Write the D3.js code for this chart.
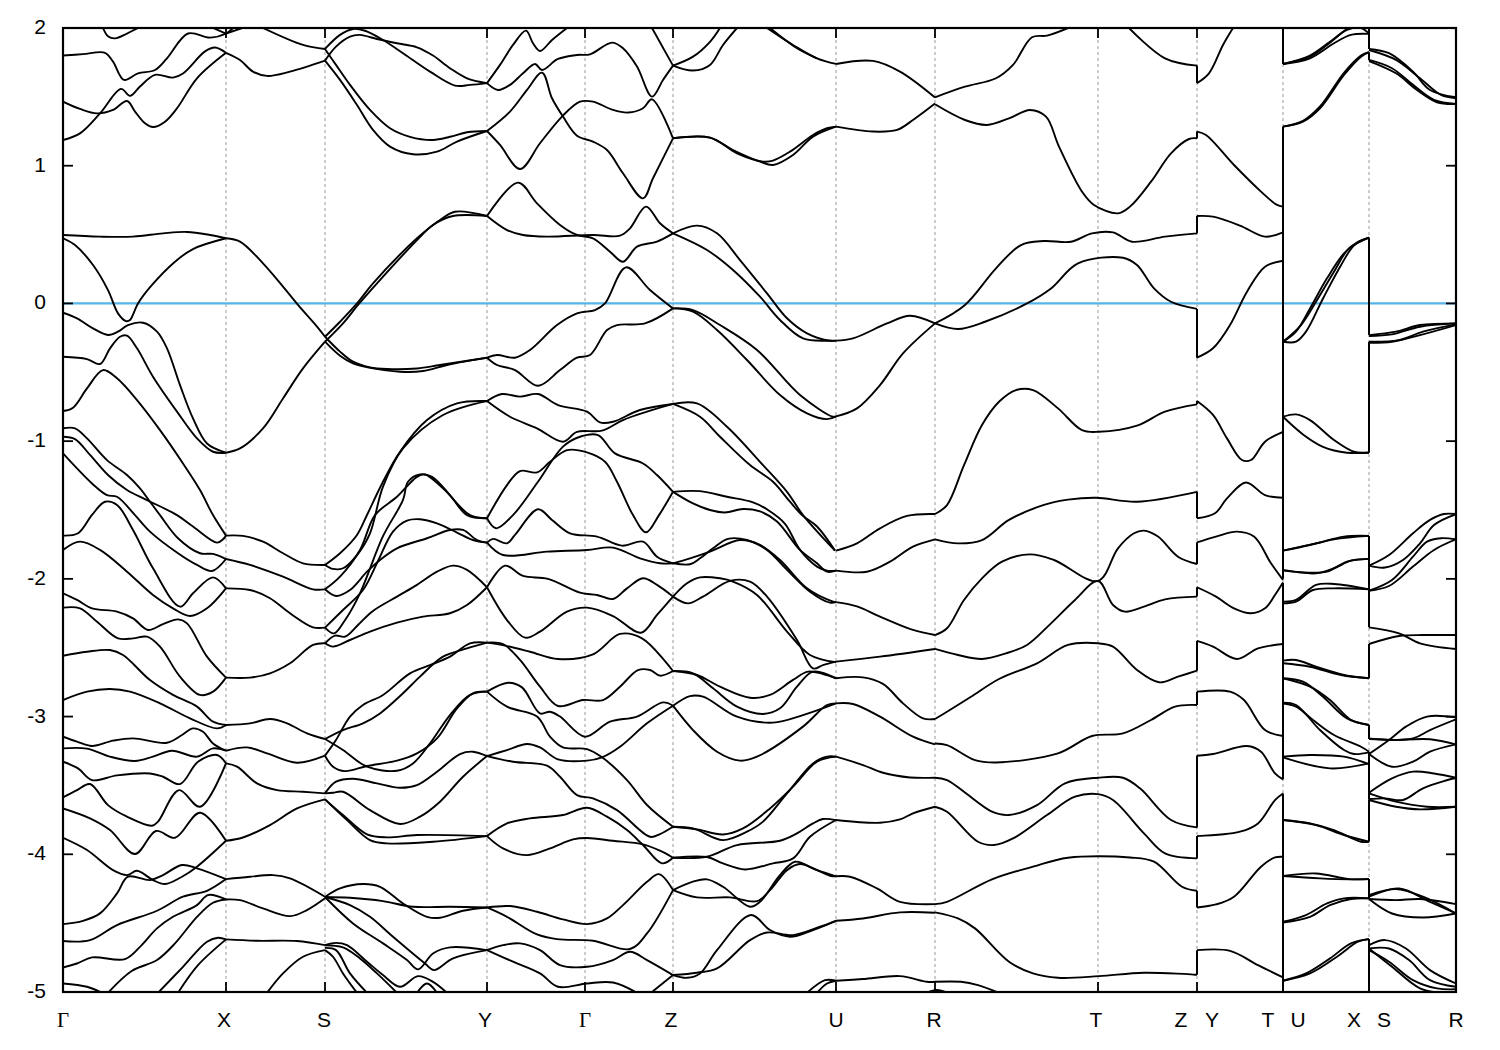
<!DOCTYPE html>
<html><head><meta charset="utf-8"><script src="https://cdnjs.cloudflare.com/ajax/libs/d3/7.8.5/d3.min.js"></script>
<style>html,body{margin:0;background:#fff}svg{display:block}text{font-family:"Liberation Sans",Arial,sans-serif;fill:#000}</style></head><body><div id="c"></div>
<script>
const energyTicks=[2,1,0,-1,-2,-3,-4,-5];
const pathTicks=[0,163,262,424,522,610,773,872,1035,1134,1220,1306,1393];
const pathLabels=[["Γ",0],["X",161],["S",261],["Y",422],["Γ",522],["Z",608],["U",773],["R",871],["T",1033],["Z",1118],["Y",1149],["T",1205],["U",1235],["X",1291],["S",1321],["R",1393]];
const bandsGammaX=[
[40,2,45,1.94,52,1.925,64,1.96,75,2],
[0,1.8,20,1.81,42,1.82,50,1.756,61,1.623,75,1.67,92,1.695,104,1.78,125,1.96,147,1.93,163,1.96,170,2],
[150,2,163,1.96],
[0,1.187,17,1.235,37,1.38,58,1.558,67,1.507,77,1.575,92,1.66,110,1.64,120,1.67,142,1.83,152,1.858,163,1.82],
[0,1.465,17,1.412,34,1.38,50,1.405,64,1.47,72,1.393,82,1.308,90,1.281,102,1.32,114,1.417,134,1.635,163,1.82],
[0,.497,37,.485,70,.485,100,.509,124,.519,147,.497,163,.473],
[0,.473,12,.424,30,.279,45,.097,55,-.072,63,-.128,67,-.12,75,0,89,.134,112,.303,130,.395,163,.473],
[0,-.067,14,-.108,30,-.181,45,-.229,55,-.205,65,-.157,80,-.14,94,-.205,104,-.326,117,-.593,130,-.835,144,-1.017,163,-1.084],
[0,-.387,24,-.404,37,-.44,47,-.326,57,-.242,64,-.234,74,-.326,90,-.532,114,-.786,134,-.98,150,-1.077,163,-1.084],
[0,-.781,10,-.757,24,-.617,40,-.484,54,-.544,74,-.702,97,-.92,120,-1.162,137,-1.355,150,-1.537,163,-1.686],
[0,-.907,12,-.907,24,-.98,44,-1.138,64,-1.246,77,-1.343,87,-1.44,97,-1.537,115,-1.705,137,-1.814,150,-1.819,163,-1.856],
[0,-.968,12,-.985,27,-1.1,45,-1.246,64,-1.355,84,-1.428,114,-1.537,130,-1.62,154,-1.737,160,-1.713,163,-1.686],
[0,-1.089,14,-1.198,29,-1.307,44,-1.392,54,-1.404,72,-1.537,87,-1.657,115,-1.814,134,-1.899,149,-1.943,163,-1.856],
[0,-1.686,15,-1.669,29,-1.536,42,-1.44,54,-1.463,70,-1.645,90,-1.923,117,-2.202,130,-2.105,150,-1.989,163,-2.069],
[0,-1.79,17,-1.73,37,-1.79,64,-1.948,90,-2.117,110,-2.214,127,-2.27,144,-2.214,163,-2.069],
[0,-2.105,14,-2.153,29,-2.214,54,-2.238,70,-2.287,85,-2.371,100,-2.328,115,-2.294,124,-2.323,144,-2.565,163,-2.717],
[0,-2.209,17,-2.214,34,-2.311,55,-2.432,70,-2.432,84,-2.42,97,-2.492,117,-2.71,137,-2.843,150,-2.819,163,-2.717],
[0,-2.558,24,-2.529,47,-2.517,60,-2.553,87,-2.735,110,-2.843,134,-2.928,150,-3.037,163,-3.061],
[0,-2.88,24,-2.819,47,-2.8,67,-2.819,97,-2.904,127,-3.013,154,-3.086,163,-3.061],
[0,-3.146,14,-3.182,29,-3.214,50,-3.175,70,-3.158,104,-3.19,119,-3.134,130,-3.086,140,-3.11,150,-3.195,163,-3.248],
[0,-3.231,24,-3.233,47,-3.291,72,-3.323,90,-3.291,109,-3.248,134,-3.291,150,-3.231,163,-3.248],
[0,-3.328,15,-3.376,29,-3.461,54,-3.427,87,-3.413,100,-3.437,117,-3.49,135,-3.328,154,-3.279,163,-3.34],
[0,-3.587,14,-3.534,27,-3.49,45,-3.643,64,-3.727,89,-3.793,95,-3.763,116,-3.534,137,-3.655,163,-3.34],
[0,-3.667,27,-3.739,47,-3.824,72,-3.998,93,-3.831,112,-3.88,137,-3.698,163,-3.902],
[0,-3.88,24,-3.969,50,-4.115,64,-4.151,74,-4.12,90,-4.187,102,-4.216,119,-4.163,134,-4.09,163,-3.902],
[0,-4.507,20,-4.483,37,-4.429,54,-4.284,65,-4.163,87,-4.187,100,-4.151,119,-4.078,134,-4.102,163,-4.18],
[0,-4.63,27,-4.623,54,-4.514,94,-4.41,120,-4.308,144,-4.265,163,-4.18],
[0,-4.822,14,-4.793,29,-4.749,62,-4.761,77,-4.672,94,-4.538,110,-4.454,134,-4.369,145,-4.296,163,-4.328],
[0,-4.938,24,-4.962,39,-5.006],
[45,-5.006,69,-4.846,94,-4.768,112,-4.647,134,-4.454,150,-4.352,163,-4.328],
[95,-5.006,120,-4.817,144,-4.635,155,-4.606,163,-4.618],
[115,-5.006,135,-4.805,163,-4.618]];
const bandsXS=[
[163,1.96,200,2.05],
[200,2,240,1.877,262,1.848],
[163,1.82,177,1.768,190,1.683,204,1.652,227,1.683,262,1.763],
[163,.473,177,.449,200,.291,220,.122,235,-.011,254,-.169,262,-.242],
[163,-1.084,177,-1.053,200,-.907,220,-.69,240,-.472,262,-.278],
[163,-1.686,180,-1.688,200,-1.73,220,-1.814,240,-1.887,262,-1.899],
[163,-1.856,187,-1.899,220,-1.984,250,-2.076,262,-2.076],
[163,-2.069,187,-2.081,207,-2.141,227,-2.25,250,-2.352,262,-2.354],
[163,-2.717,187,-2.717,207,-2.686,227,-2.613,250,-2.48,262,-2.468],
[163,-3.061,187,-3.049,207,-3.018,224,-3.049,244,-3.122,262,-3.163],
[163,-3.248,184,-3.224,204,-3.267,234,-3.335,262,-3.284],
[163,-3.34,174,-3.364,194,-3.485,214,-3.534,240,-3.546,262,-3.558],
[163,-3.902,180,-3.878,207,-3.788,234,-3.667,262,-3.601],
[163,-4.18,187,-4.163,210,-4.151,227,-4.175,262,-4.308],
[163,-4.328,177,-4.333,200,-4.393,227,-4.449,244,-4.405,262,-4.32],
[163,-4.618,194,-4.628,234,-4.63,262,-4.66],
[204,-5.006,220,-4.865,240,-4.744,262,-4.696]];
const bandsSY=[
[262,1.848,277,1.95,290,1.993,302,1.98,320,1.913,340,1.817,367,1.683,392,1.582,407,1.587,424,1.6],
[262,1.763,273,1.865,287,1.938,297,1.95,314,1.92,334,1.889,354,1.86,370,1.8,387,1.708,404,1.635,424,1.6],
[262,1.848,273,1.732,287,1.587,307,1.405,327,1.272,347,1.21,370,1.187,387,1.21,404,1.243,424,1.252],
[262,1.763,277,1.623,294,1.441,310,1.26,327,1.139,350,1.083,374,1.102,394,1.175,424,1.252],
[262,-.242,277,-.133,294,0,310,.146,354,.473,377,.606,392,.666,424,.635],
[262,-.278,280,-.145,295,-.011,314,.146,354,.46,370,.57,390,.635,424,.635],
[262,-.242,277,-.35,290,-.423,307,-.464,324,-.476,354,-.472,377,-.447,424,-.394],
[262,-.278,277,-.38,290,-.435,310,-.472,337,-.496,360,-.491,384,-.447,424,-.394],
[262,-1.899,277,-1.814,294,-1.681,304,-1.536,320,-1.295,337,-1.077,364,-.847,394,-.726,424,-.709],
[262,-1.899,270,-1.928,280,-1.923,294,-1.827,307,-1.669,320,-1.33,340,-1.053,380,-.81,424,-.709],
[262,-2.076,277,-1.984,297,-1.79,312,-1.537,334,-1.404,354,-1.259,362,-1.242,380,-1.343,407,-1.537,424,-1.56],
[262,-2.076,273,-2.124,287,-2.081,304,-1.948,317,-1.863,334,-1.778,364,-1.705,387,-1.645,400,-1.645,414,-1.718,424,-1.737],
[262,-2.354,280,-2.226,300,-2.081,315,-1.87,330,-1.657,344,-1.577,357,-1.567,374,-1.597,394,-1.664,410,-1.718,424,-1.737],
[262,-2.354,271,-2.396,282,-2.3,297,-2.105,320,-1.69,340,-1.427,345,-1.295,357,-1.242,369,-1.259,387,-1.392,404,-1.537,424,-1.56],
[262,-2.468,270,-2.492,287,-2.444,307,-2.383,334,-2.318,360,-2.274,387,-2.25,404,-2.19,424,-2.061],
[262,-2.468,272,-2.412,282,-2.42,295,-2.335,309,-2.238,334,-2.129,354,-2.044,374,-1.948,390,-1.904,404,-1.935,424,-2.061],
[262,-3.163,280,-3.098,300,-3.049,317,-2.977,340,-2.831,357,-2.71,380,-2.565,404,-2.505,424,-2.463],
[262,-3.284,273,-3.17,287,-3,300,-2.916,320,-2.843,347,-2.686,367,-2.626,387,-2.565,407,-2.468,424,-2.463],
[262,-3.163,280,-3.243,304,-3.364,334,-3.393,350,-3.34,367,-3.195,387,-2.989,407,-2.843,424,-2.819],
[262,-3.284,270,-3.364,282,-3.396,304,-3.359,334,-3.32,354,-3.267,374,-3.158,394,-2.94,410,-2.831,424,-2.819],
[262,-3.558,273,-3.473,290,-3.451,314,-3.485,337,-3.517,354,-3.497,374,-3.4,397,-3.272,410,-3.255,424,-3.287],
[262,-3.558,270,-3.553,280,-3.546,307,-3.679,337,-3.78,357,-3.727,377,-3.618,400,-3.437,424,-3.287],
[262,-3.601,280,-3.715,304,-3.855,324,-3.877,354,-3.86,424,-3.868],
[262,-3.601,284,-3.752,307,-3.897,324,-3.921,370,-3.909,424,-3.868],
[262,-4.31,277,-4.248,300,-4.216,317,-4.236,340,-4.357,364,-4.454,377,-4.461,400,-4.41,424,-4.386],
[262,-4.31,287,-4.316,320,-4.34,350,-4.381,387,-4.381,424,-4.386],
[262,-4.31,290,-4.502,320,-4.647,344,-4.768,355,-4.836,370,-4.72,387,-4.676,424,-4.696],
[262,-4.31,287,-4.369,307,-4.454,330,-4.599,362,-4.793,371,-4.841,390,-4.756,424,-4.696],
[262,-4.66,273,-4.643,284,-4.66,304,-4.78,320,-4.877,337,-4.962,355,-4.885,370,-4.926,384,-5.006],
[262,-4.66,280,-4.676,297,-4.756,314,-4.865,334,-5.006],
[262,-4.696,270,-4.744,280,-4.865,294,-5.006],
[262,-4.68,273,-4.696,287,-4.865,304,-5.006],
[354,-5.006,364,-4.938,374,-5.006]];
const bandsYGammaZ=[
[424,1.6,437,1.732,450,1.877,463,1.981,470,1.889,477,1.833,489,1.913,504,2],
[424,1.6,435,1.55,447,1.587,460,1.671,472,1.739,479,1.695,495,1.775,514,1.804,527,1.809,549,1.894,560,1.853,574,1.72,589,1.502,600,1.623,610,1.727],
[424,1.252,447,1.393,464,1.55,479,1.676,489,1.49,500,1.357,514,1.218,530,1.175,544,1.114,560,.945,580,.763,590,.909,610,1.199],
[424,1.252,437,1.151,457,.976,477,1.163,499,1.357,517,1.465,530,1.465,550,1.405,565,1.386,580,1.417,589,1.482,610,1.199],
[589,2,610,1.727],
[424,.635,455,.877,474,.727,497,.57,514,.497,530,.473,547,.376,560,.303,574,.412,594,.449,610,.509],
[424,.635,444,.533,460,.497,484,.485,530,.497,557,.492,567,.545,583,.703,597,.582,610,.509],
[424,-.394,434,-.375,452,-.394,467,-.338,494,-.157,514,-.072,532,-.048,542,0,563,.262,587,.098,610,-.036],
[424,-.394,434,-.447,452,-.484,475,-.598,497,-.484,514,-.394,527,-.375,544,-.193,554,-.157,582,-.145,610,-.036],
[424,-.709,439,-.658,457,-.677,475,-.658,495,-.738,524,-.786,537,-.864,550,-.859,577,-.774,610,-.73],
[424,-.709,447,-.823,474,-.907,500,-1.004,514,-.932,539,-.924,560,-.847,584,-.786,610,-.73],
[424,-1.56,433,-1.633,450,-1.537,475,-1.295,500,-1.04,517,-.968,535,-.956,552,-1.089,580,-1.162,594,-1.246,610,-1.368],
[424,-1.56,444,-1.319,457,-1.217,474,-1.227,487,-1.15,504,-1.065,524,-1.082,542,-1.15,554,-1.295,570,-1.537,583,-1.662,596,-1.537,610,-1.368],
[424,-1.737,430,-1.71,444,-1.742,452,-1.681,475,-1.495,489,-1.572,507,-1.669,534,-1.693,559,-1.759,580,-1.73,594,-1.839,610,-1.887],
[424,-1.737,440,-1.827,484,-1.802,524,-1.79,550,-1.773,577,-1.851,597,-1.887,610,-1.887],
[424,-2.061,442,-1.904,460,-1.979,485,-2,517,-2.1,534,-2.117,550,-2.146,564,-2.069,580,-1.996,594,-2.044,610,-2.129],
[424,-2.061,444,-2.299,462,-2.427,477,-2.383,504,-2.238,524,-2.209,550,-2.27,578,-2.391,594,-2.262,610,-2.129],
[424,-2.463,442,-2.485,467,-2.529,495,-2.582,530,-2.548,557,-2.4,579,-2.432,610,-2.669],
[424,-2.463,440,-2.473,457,-2.589,477,-2.783,495,-2.923,520,-2.88,540,-2.88,557,-2.783,575,-2.662,587,-2.662,597,-2.703,610,-2.669],
[424,-2.819,445,-2.754,459,-2.788,477,-2.977,487,-2.965,497,-3,522,-3.146,547,-3.037,574,-3,600,-2.897,610,-2.921],
[424,-2.819,444,-2.928,474,-3,487,-3.146,500,-3.224,524,-3.236,539,-3.296,564,-3.461,584,-3.642,610,-3.8],
[424,-3.287,444,-3.243,464,-3.199,477,-3.224,495,-3.311,524,-3.32,539,-3.296,557,-3.219,584,-3.049,610,-2.921],
[424,-3.287,450,-3.328,484,-3.357,497,-3.437,514,-3.57,530,-3.594,554,-3.679,587,-3.873,597,-3.853,610,-3.8],
[424,-3.868,444,-3.776,467,-3.739,500,-3.715,524,-3.662,544,-3.727,564,-3.824,580,-3.933,599,-4.066,610,-4.025],
[424,-3.868,440,-3.957,464,-4.006,487,-3.957,510,-3.892,524,-3.882,550,-3.902,580,-3.928,597,-3.974,610,-4.025],
[424,-4.386,447,-4.376,474,-4.417,500,-4.473,524,-4.507,544,-4.466,560,-4.369,584,-4.2,596,-4.144,610,-4.26],
[424,-4.386,444,-4.454,474,-4.582,494,-4.616,530,-4.628,567,-4.688,584,-4.575,610,-4.26],
[424,-4.696,440,-4.66,457,-4.647,477,-4.696,497,-4.805,524,-4.817,550,-4.768,567,-4.708,584,-4.768,610,-4.877],
[424,-4.696,450,-4.78,477,-4.865,495,-4.962,524,-4.938,550,-4.931,574,-5.006],
[588,-5.006,610,-4.877]];
const bandsZU=[
[610,1.727,630,1.792,647,1.9,657,2],
[610,1.727,630,1.691,647,1.732,660,1.877,674,2],
[704,2,730,1.877,754,1.78,773,1.739],
[707,2,734,1.853,754,1.78],
[610,1.199,647,1.204,670,1.114,697,1.03,710,1.005,730,1.078,750,1.211,773,1.284],
[610,1.199,647,1.204,674,1.09,700,1.03,710,1.037,727,1.102,750,1.223,764,1.272,773,1.284],
[610,.509,634,.565,654,.509,677,.315,704,.073,724,-.108,744,-.217,767,-.271,773,-.27],
[610,.509,644,.388,670,.243,697,.049,717,-.12,740,-.254,764,-.271,773,-.27],
[610,-.036,630,-.048,657,-.157,694,-.338,737,-.665,770,-.823,773,-.82],
[610,-.036,630,-.06,654,-.193,684,-.411,717,-.665,744,-.798,764,-.84,773,-.82],
[610,-.73,634,-.726,664,-.895,700,-1.174,724,-1.368,740,-1.537,772,-1.795],
[610,-.73,637,-.823,657,-.968,687,-1.174,710,-1.295,727,-1.44,739,-1.537,754,-1.62,772,-1.795],
[610,-1.368,637,-1.363,664,-1.404,690,-1.445,705,-1.5,722,-1.6,737,-1.79,754,-1.911,764,-1.94,773,-1.94],
[610,-1.368,630,-1.452,647,-1.5,662,-1.518,680,-1.493,697,-1.51,714,-1.584,737,-1.79,754,-1.887,764,-1.948,773,-1.94],
[610,-1.887,627,-1.894,637,-1.851,650,-1.778,665,-1.71,684,-1.718,704,-1.79,724,-1.935,747,-2.093,767,-2.173,773,-2.169],
[610,-1.887,627,-1.851,647,-1.802,677,-1.718,697,-1.754,717,-1.863,744,-2.069,770,-2.165,773,-2.169],
[610,-2.129,624,-2.032,637,-1.989,657,-1.996,670,-2.02,694,-2.117,724,-2.383,747,-2.553,773,-2.606],
[610,-2.129,625,-2.178,640,-2.129,667,-2.015,687,-2.02,704,-2.129,734,-2.444,750,-2.65,760,-2.626,773,-2.601],
[610,-2.669,630,-2.686,650,-2.795,674,-2.928,700,-2.981,717,-2.94,734,-2.783,750,-2.674,773,-2.722],
[610,-2.669,634,-2.698,657,-2.783,687,-2.863,707,-2.843,730,-2.734,745,-2.674,760,-2.691,773,-2.722],
[610,-2.921,627,-2.851,640,-2.855,674,-3.001,710,-3.044,740,-2.989,773,-2.904],
[610,-2.921,630,-3.098,654,-3.255,677,-3.32,694,-3.291,740,-3.073,764,-2.916,773,-2.904],
[610,-3.8,630,-3.812,660,-3.897,684,-3.836,700,-3.763,724,-3.558,750,-3.34,764,-3.291,773,-3.291],
[610,-3.8,634,-3.819,660,-3.856,680,-3.812,707,-3.667,730,-3.509,754,-3.328,773,-3.291],
[610,-4.025,644,-4.018,674,-3.933,717,-3.902,734,-3.848,750,-3.776,760,-3.744,773,-3.752],
[610,-4.025,644,-4.02,660,-4.066,682,-4.11,710,-4.066,730,-4.03,747,-3.873,773,-3.751],
[610,-4.26,630,-4.199,644,-4.182,660,-4.236,687,-4.381,697,-4.345,717,-4.151,732,-4.054,750,-4.102,767,-4.156,773,-4.16],
[610,-4.26,634,-4.313,667,-4.313,694,-4.34,707,-4.26,724,-4.115,737,-4.071,754,-4.115,773,-4.16],
[610,-4.877,624,-4.897,637,-4.865,654,-4.696,688,-4.441,707,-4.55,727,-4.599,750,-4.55,773,-4.483],
[610,-4.877,634,-4.86,654,-4.829,687,-4.623,704,-4.568,730,-4.587,757,-4.526,773,-4.483],
[744,-5.006,762,-4.914,773,-4.918],
[754,-5.006,764,-4.938,773,-4.918]];
const bandsUR=[
[773,1.739,810,1.761,837,1.683,872,1.495],
[773,1.284,810,1.248,834,1.26,850,1.332,872,1.451],
[773,-.27,790,-.254,824,-.145,847,-.089,872,-.145],
[773,-.82,794,-.762,817,-.593,840,-.363,872,-.145],
[773,-1.795,794,-1.742,817,-1.633,844,-1.543,872,-1.529],
[773,-1.94,804,-1.948,827,-1.875,850,-1.766,872,-1.713],
[773,-2.169,794,-2.2,817,-2.274,850,-2.371,872,-2.408],
[773,-2.601,817,-2.565,872,-2.509],
[773,-2.722,800,-2.715,820,-2.763,840,-2.904,860,-3.013,872,-3.018],
[773,-2.904,790,-2.909,817,-3.001,850,-3.146,872,-3.202],
[773,-3.291,800,-3.352,820,-3.408,847,-3.442,872,-3.444],
[773,-3.751,817,-3.771,837,-3.747,850,-3.703,872,-3.655],
[773,-4.16,787,-4.163,814,-4.248,837,-4.345,872,-4.362],
[773,-4.483,800,-4.466,837,-4.422,872,-4.425],
[773,-4.918,800,-4.906,837,-4.885,864,-4.926,872,-4.926],
[864,-5.006,874,-4.986,884,-5.006]];
const bandsRTZ=[
[872,1.497,902,1.574,933,1.635,950,1.732,969,1.933,984,1.945,1005,2],
[1066,2,1102,1.78,1134,1.727],
[872,1.446,902,1.332,924,1.296,946,1.344,967,1.405,983,1.356,996,1.139,1019,.812,1031,.715,1055,.654,1067,.703,1088,.884,1108,1.09,1126,1.194,1134,1.199],
[872,-.145,902,-.011,933,.255,958,.424,981,.453,1008,.448,1029,.509,1050,.516,1069,.448,1102,.485,1134,.509],
[872,-.145,895,-.186,922,-.133,964,0,988,.109,1015,.291,1060,.332,1074,.279,1091,.109,1108,.012,1134,-.04],
[872,-1.529,884,-1.464,901,-1.174,919,-.883,936,-.714,953,-.629,970,-.629,995,-.762,1019,-.92,1036,-.932,1074,-.888,1102,-.786,1134,-.733],
[872,-1.713,895,-1.742,919,-1.718,946,-1.572,981,-1.463,1005,-1.425,1033,-1.411,1074,-1.44,1134,-1.368],
[872,-2.408,884,-2.359,901,-2.153,919,-1.996,939,-1.875,967,-1.822,991,-1.863,1035,-2.015,1055,-1.778,1071,-1.669,1081,-1.65,1095,-1.693,1115,-1.839,1134,-1.892],
[872,-2.509,895,-2.553,919,-2.582,943,-2.541,964,-2.48,988,-2.323,1012,-2.153,1035,-2.015,1050,-2.19,1062,-2.238,1081,-2.202,1102,-2.149,1134,-2.129],
[872,-3.018,884,-2.965,908,-2.856,936,-2.727,974,-2.613,1005,-2.48,1035,-2.468,1050,-2.492,1074,-2.662,1096,-2.751,1115,-2.71,1134,-2.667],
[872,-3.195,884,-3.207,912,-3.316,933,-3.333,995,-3.267,1029,-3.141,1060,-3.122,1088,-3.025,1112,-2.928,1134,-2.916],
[872,-3.444,884,-3.461,929,-3.691,946,-3.715,974,-3.643,1002,-3.485,1035,-3.444,1060,-3.444,1077,-3.521,1108,-3.751,1134,-3.805],
[872,-3.655,884,-3.691,915,-3.909,931,-3.933,950,-3.885,984,-3.715,1012,-3.582,1035,-3.563,1050,-3.606,1081,-3.848,1102,-3.994,1134,-4.03],
[872,-4.362,884,-4.345,929,-4.182,970,-4.09,1005,-4.025,1067,-4.023,1091,-4.054,1119,-4.236,1134,-4.265],
[872,-4.422,895,-4.466,912,-4.538,946,-4.78,970,-4.865,995,-4.897,1036,-4.885,1081,-4.86,1134,-4.875],
[872,-4.926,898,-4.926,915,-4.95,936,-5.006]];
const bandsYT=[
[1134,1.6,1146,1.671,1160,1.877,1170,2],
[1134,1.248,1143,1.223,1171,1.005,1198,.812,1214,.715,1220,.703],
[1134,.635,1150,.63,1177,.565,1202,.485,1220,.516],
[1134,-.394,1150,-.326,1167,-.157,1184,.085,1202,.267,1220,.31],
[1134,-.709,1150,-.81,1164,-.98,1179,-1.137,1188,-1.137,1202,-1.004,1220,-.932],
[1134,-1.56,1152,-1.524,1164,-1.416,1183,-1.3,1202,-1.392,1220,-1.411],
[1134,-1.735,1153,-1.693,1174,-1.657,1191,-1.693,1208,-1.887,1220,-2.008],
[1134,-2.061,1153,-2.129,1171,-2.214,1188,-2.25,1202,-2.214,1212,-2.117,1220,-2.027],
[1134,-2.451,1150,-2.492,1174,-2.582,1195,-2.505,1220,-2.473],
[1134,-2.819,1167,-2.819,1181,-2.88,1202,-3.098,1220,-3.141],
[1134,-3.284,1150,-3.272,1184,-3.214,1198,-3.255,1212,-3.413,1220,-3.456],
[1134,-3.868,1177,-3.836,1195,-3.776,1212,-3.606,1220,-3.558],
[1134,-4.386,1153,-4.364,1171,-4.308,1198,-4.09,1212,-4.023,1220,-4.018],
[1134,-4.696,1167,-4.701,1195,-4.805,1220,-4.894]];
const bandsUX=[
[1220,1.739,1247,1.792,1264,1.877,1284,1.993,1294,2.03],
[1220,1.739,1247,1.78,1271,1.889,1288,1.95,1306,1.957],
[1220,1.739,1247,1.8,1267,1.9,1284,1.986,1298,2,1306,1.96],
[1220,1.284,1240,1.32,1257,1.417,1281,1.659,1298,1.792,1306,1.824],
[1220,1.284,1240,1.326,1257,1.43,1281,1.675,1298,1.8,1306,1.824],
[1220,-.278,1233,-.205,1247,-.036,1264,.182,1281,.364,1295,.448,1306,.478],
[1220,-.278,1233,-.278,1243,-.205,1260,.036,1278,.278,1291,.42,1306,.478],
[1220,-.278,1238,-.157,1253,.012,1271,.23,1286,.4,1306,.478],
[1220,-.823,1233,-.806,1247,-.847,1271,-.992,1291,-1.077,1306,-1.082],
[1220,-.823,1240,-.951,1260,-1.041,1284,-1.084,1306,-1.084],
[1220,-1.795,1247,-1.754,1271,-1.713,1306,-1.688],
[1220,-1.795,1253,-1.742,1281,-1.693,1306,-1.688],
[1220,-1.94,1250,-1.955,1264,-1.948,1284,-1.875,1306,-1.855],
[1220,-1.935,1253,-1.96,1271,-1.923,1288,-1.868,1306,-1.855],
[1220,-2.165,1233,-2.153,1253,-2.044,1271,-2.037,1306,-2.076],
[1220,-2.178,1233,-2.165,1250,-2.081,1271,-2.069,1306,-2.076],
[1220,-2.594,1233,-2.589,1253,-2.638,1281,-2.698,1306,-2.722],
[1220,-2.613,1247,-2.638,1278,-2.698,1306,-2.722],
[1220,-2.722,1240,-2.747,1260,-2.856,1284,-3.013,1306,-3.061],
[1220,-2.722,1247,-2.783,1267,-2.88,1288,-3.025,1306,-3.061],
[1220,-2.899,1233,-2.916,1257,-3.098,1281,-3.243,1291,-3.272,1306,-3.26],
[1220,-2.905,1233,-2.928,1250,-3.025,1271,-3.134,1298,-3.219,1306,-3.255],
[1220,-3.291,1247,-3.279,1281,-3.291,1306,-3.345],
[1220,-3.296,1267,-3.376,1306,-3.34],
[1220,-3.751,1247,-3.776,1271,-3.824,1298,-3.909,1306,-3.909],
[1220,-3.751,1253,-3.788,1281,-3.86,1306,-3.909],
[1220,-4.158,1253,-4.139,1286,-4.18,1306,-4.18],
[1220,-4.158,1257,-4.175,1286,-4.182,1306,-4.18],
[1220,-4.49,1243,-4.441,1264,-4.357,1281,-4.32,1306,-4.32],
[1220,-4.495,1247,-4.454,1267,-4.369,1288,-4.325,1306,-4.32],
[1220,-4.918,1243,-4.865,1267,-4.756,1288,-4.647,1306,-4.616],
[1220,-4.918,1247,-4.865,1274,-4.744,1295,-4.635,1306,-4.616]];
const bandsSR=[
[1306,1.848,1326,1.817,1350,1.683,1367,1.55,1393,1.497],
[1306,1.84,1333,1.768,1357,1.635,1378,1.514,1393,1.49],
[1306,1.768,1329,1.708,1350,1.587,1371,1.478,1393,1.449],
[1306,1.76,1333,1.671,1354,1.55,1374,1.461,1393,1.449],
[1306,-.23,1333,-.205,1357,-.157,1393,-.145],
[1306,-.237,1329,-.225,1357,-.169,1393,-.145],
[1306,-.278,1336,-.266,1360,-.205,1393,-.152],
[1306,-.285,1329,-.278,1357,-.23,1393,-.157],
[1306,-1.904,1326,-1.827,1350,-1.669,1367,-1.572,1381,-1.529,1393,-1.529],
[1306,-1.904,1322,-1.918,1340,-1.863,1357,-1.742,1371,-1.609,1393,-1.53],
[1306,-2.086,1329,-2.008,1350,-1.839,1364,-1.73,1378,-1.705,1393,-1.713],
[1306,-2.086,1326,-2.052,1350,-1.911,1371,-1.79,1393,-1.713],
[1306,-2.352,1336,-2.396,1357,-2.468,1393,-2.509],
[1306,-2.473,1336,-2.415,1360,-2.408,1393,-2.408],
[1306,-3.158,1329,-3.17,1367,-3.165,1393,-3.202],
[1306,-3.272,1326,-3.17,1343,-3.073,1364,-3,1393,-3.006],
[1306,-3.272,1329,-3.364,1350,-3.328,1367,-3.255,1393,-3.202],
[1306,-3.163,1350,-3.158,1367,-3.098,1393,-3.02],
[1306,-3.553,1329,-3.449,1350,-3.4,1371,-3.413,1393,-3.444],
[1306,-3.599,1322,-3.594,1340,-3.606,1360,-3.521,1393,-3.444],
[1306,-3.606,1333,-3.655,1357,-3.674,1393,-3.655],
[1306,-3.558,1333,-3.618,1364,-3.655,1393,-3.655],
[1306,-4.296,1333,-4.253,1360,-4.308,1393,-4.43],
[1306,-4.308,1336,-4.248,1367,-4.345,1393,-4.43],
[1306,-4.325,1333,-4.333,1357,-4.325,1393,-4.362],
[1306,-4.325,1329,-4.43,1360,-4.459,1393,-4.43],
[1306,-4.66,1322,-4.623,1343,-4.684,1367,-4.841,1393,-4.938],
[1306,-4.684,1326,-4.684,1346,-4.768,1367,-4.914,1393,-4.962],
[1306,-4.696,1326,-4.78,1350,-4.914,1374,-4.974,1393,-4.98],
[1306,-4.684,1329,-4.817,1357,-4.974,1378,-5.006,1393,-5]];
const jumpsZY=[[1.727,1.6],[1.199,1.248],[.509,.635],[-.04,-.394],[-.733,-.709],[-1.368,-1.56],[-1.892,-1.735],[-2.129,-2.061],[-2.667,-2.451],[-2.916,-2.819],[-3.805,-3.284],[-4.03,-3.868],[-4.265,-4.386],[-4.875,-4.696]];
const jumpsTU=[[2,1.739],[1.284,-2],[-2.03,-3.456],[-3.558,-5]];
const jumpsXS=[[2,1.848],[1.824,1.768],[.478,-.23],[-.278,-1.084],[-1.688,-2.352],[-2.473,-2.722],[-3.061,-3.163],[-3.255,-3.6],[-3.6,-3.909],[-4.18,-4.325],[-4.616,-5]];

const allBands=[bandsGammaX,bandsXS,bandsSY,bandsYGammaZ,bandsZU,bandsUR,bandsRTZ,bandsYT,bandsUX,bandsSR].flat();
const W=1500,H=1050,m={l:63,r:1456,t:28,b:992};
const x=d3.scaleLinear().domain([0,1393]).range([m.l,m.r]);
const y=d3.scaleLinear().domain([-5,2]).range([m.b,m.t]);
const svg=d3.select("#c").append("svg").attr("width",W).attr("height",H);
svg.append("defs").append("clipPath").attr("id","pl").append("rect").attr("x",m.l).attr("y",m.t).attr("width",m.r-m.l).attr("height",m.b-m.t);
const inner=pathTicks.slice(1,-1);
svg.append("g").selectAll("line").data(inner).join("line").attr("x1",d=>x(d)).attr("x2",d=>x(d)).attr("y1",m.t).attr("y2",m.b).attr("stroke","#999").attr("stroke-width",1).attr("stroke-dasharray","3,3");
const plot=svg.append("g").attr("clip-path","url(#pl)");
plot.append("line").attr("x1",m.l).attr("x2",m.r).attr("y1",y(0)).attr("y2",y(0)).attr("stroke","#56b4e9").attr("stroke-width",2.2);
const line=d3.line().x(d=>x(d[0])).y(d=>y(d[1])).curve(d3.curveCatmullRom.alpha(0.5));
plot.append("g").selectAll("path").data(allBands).join("path").attr("fill","none").attr("stroke","#000").attr("stroke-width",1.9).attr("d",b=>line(d3.range(0,b.length,2).map(i=>[b[i],b[i+1]])));
[[1134,jumpsZY],[1220,jumpsTU],[1306,jumpsXS]].forEach(([k,js])=>{plot.append("g").selectAll("line").data(js).join("line").attr("x1",x(k)).attr("x2",x(k)).attr("y1",d=>y(d[0])).attr("y2",d=>y(d[1])).attr("stroke","#000").attr("stroke-width",2);});
const tk=svg.append("g").attr("stroke","#000").attr("stroke-width",1.8);
energyTicks.slice(1,-1).forEach(e=>{tk.append("line").attr("x1",m.l).attr("x2",m.l+10).attr("y1",y(e)).attr("y2",y(e));tk.append("line").attr("x1",m.r).attr("x2",m.r-10).attr("y1",y(e)).attr("y2",y(e));});
inner.forEach(k=>{tk.append("line").attr("x1",x(k)).attr("x2",x(k)).attr("y1",m.t).attr("y2",m.t+10);tk.append("line").attr("x1",x(k)).attr("x2",x(k)).attr("y1",m.b).attr("y2",m.b-10);});
svg.append("rect").attr("x",m.l).attr("y",m.t).attr("width",m.r-m.l).attr("height",m.b-m.t).attr("fill","none").attr("stroke","#000").attr("stroke-width",2.2);
svg.append("g").selectAll("text").data(energyTicks).join("text").attr("x",46).attr("y",d=>y(d)+6).attr("text-anchor","end").attr("font-size",21).text(d=>String(d));
svg.append("g").selectAll("text").data(pathLabels).join("text").attr("x",d=>x(d[1])).attr("y",1027).attr("text-anchor","middle").attr("font-size",21).style("font-family",d=>d[0]==="Γ"?'"Liberation Serif",serif':null).text(d=>d[0]);
</script></body></html>
